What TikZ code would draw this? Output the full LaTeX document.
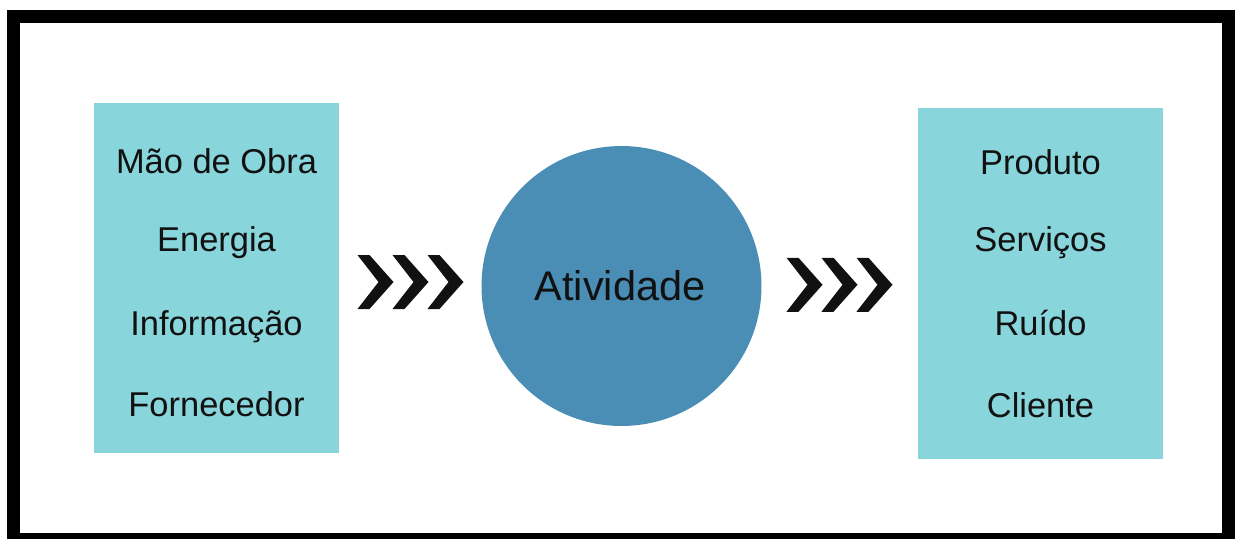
\documentclass[tikz,border=0pt]{standalone}
\usepackage{fontspec}
\setmainfont{Liberation Sans}
\usetikzlibrary{calc,positioning}
\definecolor{ink}{HTML}{111111}
\definecolor{boxfill}{HTML}{88D5DB}
\definecolor{discfill}{HTML}{4A8DB5}
\newcommand{\itemfont}{\fontsize{19.6}{23}\selectfont}
\newcommand{\bigfont}{\fontsize{23.6}{28}\selectfont}
\tikzset{
 every node/.append style={text=ink,align=center},
 side/.style={fill=boxfill,inner sep=0pt,minimum width=4.92cm,minimum height=7.02cm},
 disc/.style={circle,fill=discfill,inner sep=0pt,minimum size=5.6cm},
 entry/.style={font=\itemfont,anchor=base,inner sep=0pt},
 chevrons/.pic={
  \foreach \s in {0,35,70}
   \fill[ink] (\s-53,-27) -- ++(12,0) -- ++(24,27) -- ++(-24,27) -- ++(-12,0) -- ++(21,-27) -- cycle;
 },
}

\begin{document}
\begin{tikzpicture}[x=0.02cm,y=-0.02cm]

\useasboundingbox (0,0) rectangle (1235,539);
\fill[black] (7,10) rectangle (1235,539);
\fill[white] (20,23) rectangle (1222,533);
\node[side] (inputs) at (216.5,278) {};
\node[side] (outputs) at (1040.5,283.5) {};
\node[disc] (ativ) at (621.5,286) {};
\node[font=\bigfont,anchor=base,inner sep=0pt] (ativtxt) at (620,300) {Atividade};
\foreach \t/\y [count=\i] in {M\~ao de Obra/173,Energia/251,Informa\c{c}\~ao/335,Fornecedor/416}
 \node[entry] (in\i) at (216.5,\y) {\t};
\foreach \t/\y [count=\i] in {Produto/174,Servi\c{c}os/251,Ru\'ido/335,Cliente/417}
 \node[entry] (out\i) at (1040.5,\y) {\t};
\pic at ($(inputs.east)!.5!(ativ.west)$) {chevrons};
\pic at ($(ativ.east)!.5!(outputs.west)$) {chevrons};

\end{tikzpicture}
\end{document}
